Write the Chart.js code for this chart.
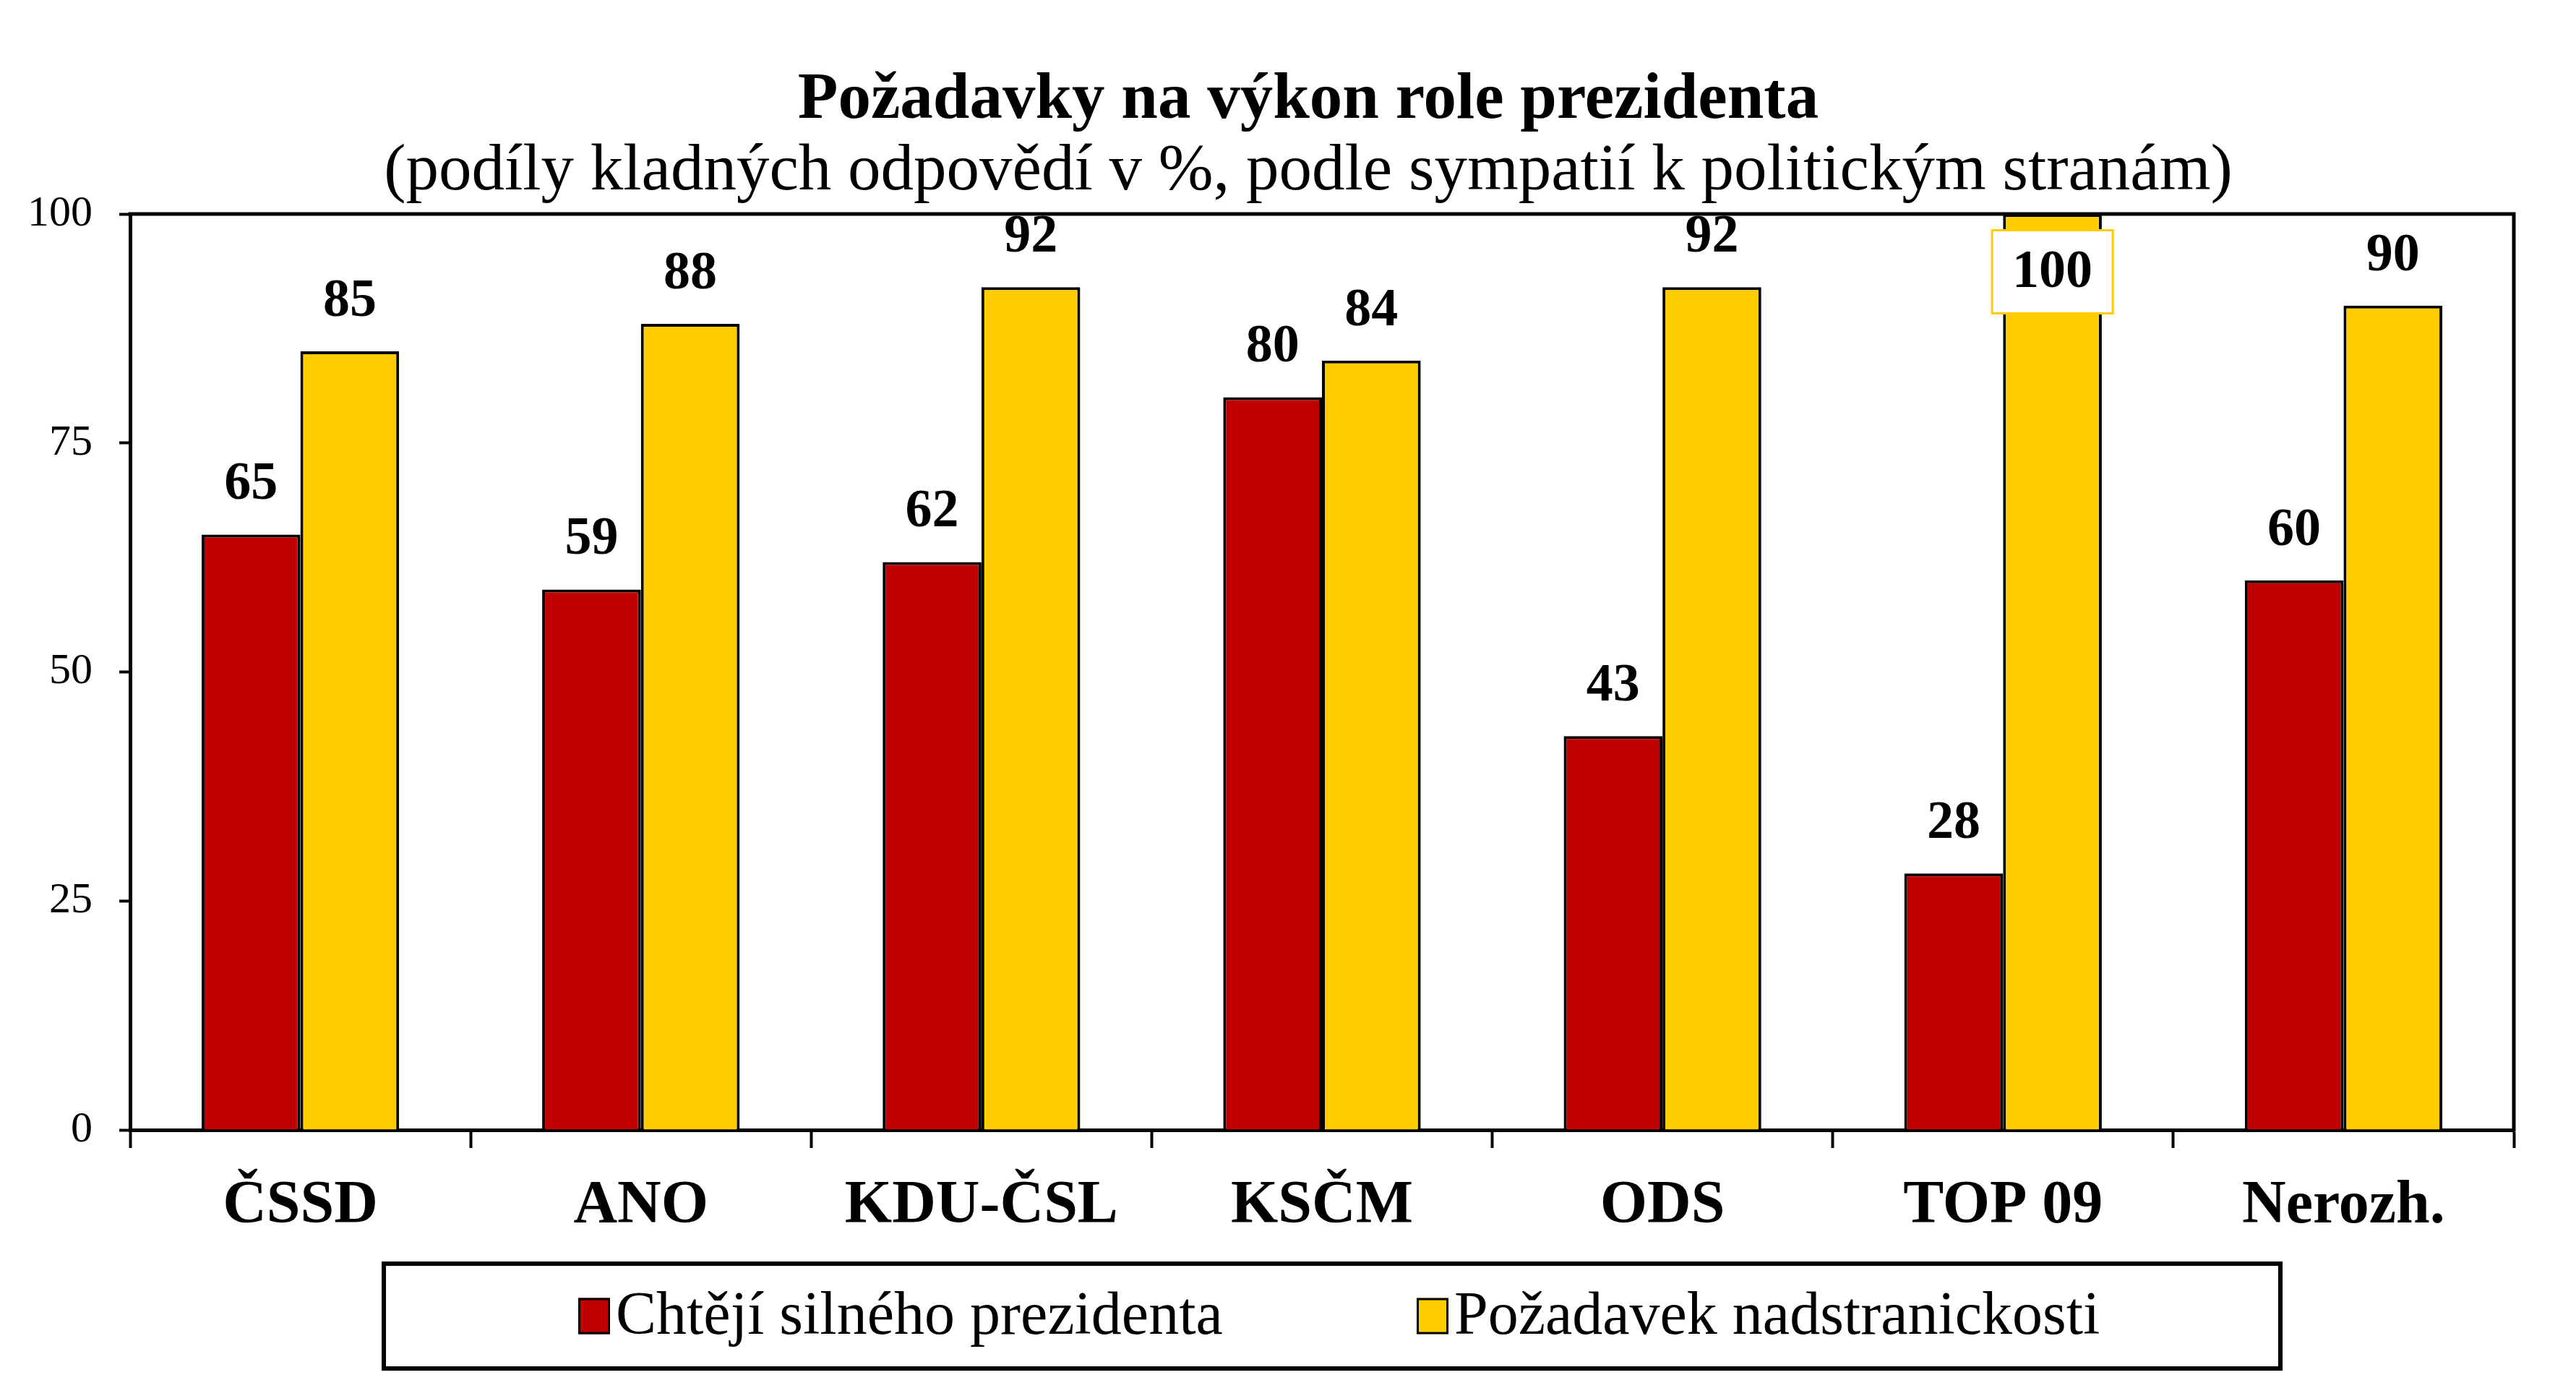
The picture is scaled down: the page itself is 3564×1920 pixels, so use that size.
<!DOCTYPE html>
<html><head><meta charset="utf-8">
<script src="https://cdn.jsdelivr.net/npm/chart.js@4.4.1/dist/chart.umd.min.js"></script>
<style>html,body{margin:0;padding:0;background:#fff;}#wrap{width:3564px;height:1920px;position:relative;}</style>
</head><body><div id="wrap"><canvas id="c" width="3564" height="1920"></canvas></div>
<script>
// ---- data ----
const categories = ['ČSSD', 'ANO', 'KDU-ČSL', 'KSČM', 'ODS', 'TOP 09', 'Nerozh.'];
const seriesNames = ['Chtějí silného prezidenta', 'Požadavek nadstranickosti'];
const strongPresident = [65, 59, 62, 80, 43, 28, 60];
const nonPartisan = [85, 88, 92, 84, 92, 100, 90];
const yTicks = [0, 25, 50, 75, 100];
const titleText = 'Požadavky na výkon role prezidenta';
const subtitleText = '(podíly kladných odpovědí v %, podle sympatií k politickým stranám)';

const FAM = '"Liberation Serif", "Times New Roman", serif';
const RED = '#C00000', YEL = '#FFCC00';

// shift the title blocks so they are centred a little left of the plot centre (as in the original)
const titleShift = {
  id: 'titleShift',
  afterLayout(chart) {
    const a = chart.chartArea;
    const target = (a.left + a.right) / 2 - 19;
    chart.boxes.forEach(b => {
      if (b.position === 'top' && b.options && b.options.text !== undefined) {
        const c = (b.left + b.right) / 2;
        const d = target - c;
        b.left += d; b.right += d;
      }
    });
  }
};

const framePlugin = {
  id: 'frame',
  afterDraw(chart) {
    const {ctx, chartArea: a} = chart;
    ctx.save();
    ctx.strokeStyle = '#000'; ctx.lineWidth = 5;
    ctx.beginPath();
    ctx.moveTo(a.left - 2.5, a.top); ctx.lineTo(a.right, a.top); ctx.lineTo(a.right, a.bottom + 2.5);
    ctx.stroke();
    ctx.restore();
  }
};

const valueLabels = {
  id: 'valueLabels',
  afterDatasetsDraw(chart) {
    const {ctx, chartArea: a} = chart;
    chart.data.datasets.forEach((ds, di) => {
      const meta = chart.getDatasetMeta(di);
      meta.data.forEach((bar, i) => {
        const txt = String(ds.data[i]);
        ctx.save();
        ctx.font = 'bold 74px ' + FAM;
        ctx.fillStyle = '#000';
        ctx.textAlign = 'center';
        const y = bar.y - 49;
        if (y - 49 < a.top) {
          const w = ctx.measureText(txt).width + 56, h = 115, cy = a.top + 80;
          ctx.fillStyle = '#fff';
          ctx.fillRect(bar.x - w / 2, cy - h / 2, w, h);
          ctx.strokeStyle = YEL; ctx.lineWidth = 3;
          ctx.strokeRect(bar.x - w / 2, cy - h / 2, w, h);
          ctx.fillStyle = '#000';
          ctx.textBaseline = 'middle';
          ctx.fillText(txt, bar.x, cy + 2);
        } else {
          ctx.textBaseline = 'alphabetic';
          ctx.fillText(txt, bar.x, y);
        }
        ctx.restore();
      });
    });
  }
};

const boxLegend = {
  id: 'boxLegend',
  afterDraw(chart) {
    const {ctx, chartArea: a} = chart;
    const L = a.left + 351, R = a.right - 323, T = a.bottom + 185, B = a.bottom + 330;
    ctx.save();
    ctx.strokeStyle = '#000'; ctx.lineWidth = 6;
    ctx.strokeRect(L, T, R - L, B - T);
    const cy = (T + B) / 2;
    const xs = [a.left + 620, a.left + 1780];
    chart.data.datasets.forEach((ds, i) => {
      const x = xs[i];
      ctx.fillStyle = ds.backgroundColor;
      ctx.fillRect(x, cy - 25, 44, 50);
      ctx.strokeStyle = '#000'; ctx.lineWidth = 3;
      ctx.strokeRect(x + 1.5, cy - 23.5, 41, 47);
      ctx.fillStyle = '#000';
      ctx.font = '84px ' + FAM;
      ctx.textAlign = 'left'; ctx.textBaseline = 'middle';
      ctx.fillText(ds.label, x + 52, cy + 2);
    });
    ctx.restore();
  }
};

Chart.defaults.font.family = FAM;
Chart.defaults.color = '#000';

new Chart(document.getElementById('c'), {
  type: 'bar',
  data: {
    labels: categories,
    datasets: [
      {label: seriesNames[0], data: strongPresident, backgroundColor: RED, borderColor: '#000', borderWidth: 4, categoryPercentage: 0.58, barPercentage: 1.0},
      {label: seriesNames[1], data: nonPartisan, backgroundColor: YEL, borderColor: '#000', borderWidth: 4, categoryPercentage: 0.58, barPercentage: 1.0}
    ]
  },
  options: {
    responsive: false,
    devicePixelRatio: 1,
    animation: false,
    layout: {padding: {left: 0, right: 86, top: 0, bottom: 207}},
    plugins: {
      legend: {display: false},
      tooltip: {enabled: false},
      title: {display: true, text: titleText, color: '#000', font: {family: FAM, size: 91, weight: 'bold', lineHeight: 1}, padding: {top: 94, bottom: 8}},
      subtitle: {display: true, text: subtitleText, color: '#000', font: {family: FAM, size: 91, weight: 'normal', lineHeight: 1}, padding: {top: 0, bottom: 12}}
    },
    scales: {
      x: {
        grid: {display: true, drawOnChartArea: false, offset: true, tickLength: 25, tickWidth: 4, tickColor: '#000', color: '#000'},
        border: {display: true, color: '#000', width: 5},
        ticks: {font: {family: FAM, size: 84, weight: 'bold'}, color: '#000', padding: 31, maxRotation: 0, autoSkip: false},
        afterFit(scale) { scale.height = 150; }
      },
      y: {
        min: 0, max: 100,
        afterBuildTicks(scale) { scale.ticks = yTicks.map(v => ({value: v})); },
        grid: {display: true, drawOnChartArea: false, tickLength: 15, tickWidth: 4, tickColor: '#000'},
        border: {display: true, color: '#000', width: 5},
        ticks: {font: {family: FAM, size: 60}, color: '#000', padding: 37},
        afterFit(scale) { scale.width = 180; }
      }
    }
  },
  plugins: [titleShift, framePlugin, valueLabels, boxLegend]
});
</script>
</body></html>
